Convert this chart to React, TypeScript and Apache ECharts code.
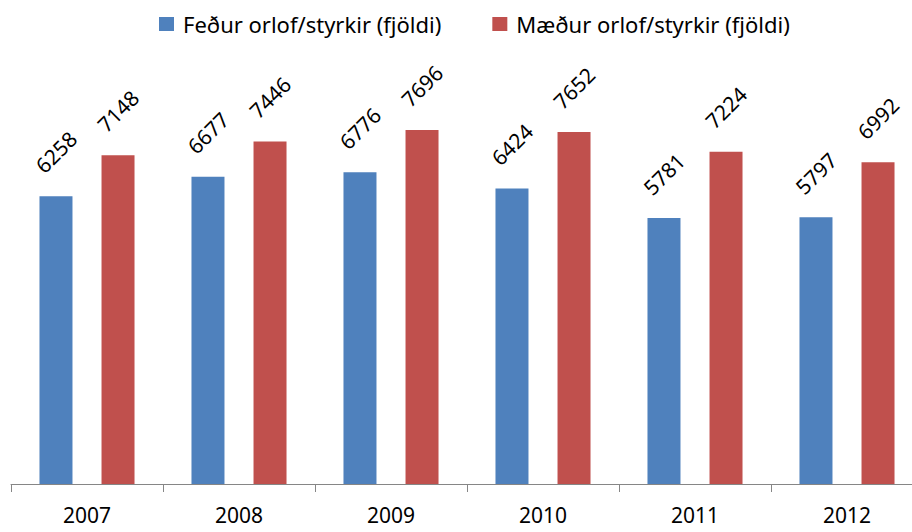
import React, { useEffect, useRef } from "react";
import * as echarts from "echarts";

const years = ["2007", "2008", "2009", "2010", "2011", "2012"];
const fathers = [6258, 6677, 6776, 6424, 5781, 5797];
const mothers = [7148, 7446, 7696, 7652, 7224, 6992];
const seriesNames = ["Feður orlof/styrkir (fjöldi)", "Mæður orlof/styrkir (fjöldi)"];

const FONT = "Noto Sans";

export default function App() {
  const ref = useRef<HTMLDivElement>(null);
  useEffect(() => {
    document.body.style.margin = "0";
    if (!ref.current) return;
    const chart = echarts.init(ref.current, undefined, { renderer: "svg" });
    const label = {
      show: true,
      position: "top" as const,
      distance: 44,
      rotate: 45,
      align: "center" as const,
      verticalAlign: "middle" as const,
      color: "#000",
      fontFamily: FONT,
      fontSize: 21,
    };
    chart.setOption({
      animation: false,
      backgroundColor: "#fff",
      legend: {
        left: 154,
        top: 8,
        icon: "rect",
        itemWidth: 15,
        itemHeight: 14,
        itemGap: 51,
        textStyle: { color: "#000", fontFamily: FONT, fontSize: 22, padding: [0, 0, 0, 4] },
        data: seriesNames,
      },
      grid: { left: 11, width: 912, top: 24, bottom: 48, outerBoundsMode: "none" },
      xAxis: {
        type: "category",
        data: years,
        axisLine: { lineStyle: { color: "#868686", width: 1 } },
        axisTick: { show: true, length: 8, lineStyle: { color: "#868686" } },
        axisLabel: { color: "#000", fontFamily: FONT, fontSize: 21, margin: 20 },
      },
      yAxis: {
        type: "value",
        min: 0,
        max: 10000,
        show: false,
        splitLine: { show: false },
      },
      series: [
        {
          name: seriesNames[0],
          type: "bar",
          data: fathers,
          barWidth: 33,
          barGap: "88%",
          itemStyle: { color: "#4F81BD" },
          label,
        },
        {
          name: seriesNames[1],
          type: "bar",
          data: mothers,
          barWidth: 33,
          itemStyle: { color: "#C0504D" },
          label,
        },
      ],
    });
    return () => chart.dispose();
  }, []);
  return <div ref={ref} style={{ width: 912, height: 532 }} />;
}
